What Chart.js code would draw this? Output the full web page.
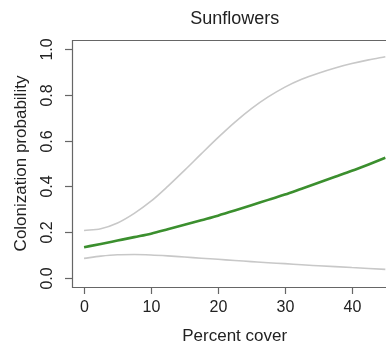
<!DOCTYPE html>
<html>
<head>
<meta charset="utf-8">
<script src="https://cdn.jsdelivr.net/npm/chart.js@4"></script>
<style>
  html, body { margin: 0; padding: 0; background: #fff; }
  #wrap { width: 386px; height: 349px; }
</style>
</head>
<body>
<div id="wrap"><canvas id="line-chart"></canvas></div>
<script>
// percent cover and fitted colonization probability with its interval
const cover = [0, 2.5, 5, 7.5, 10, 12.5, 15, 17.5, 20, 22.5, 25, 27.5, 30, 32.5, 35, 37.5, 40, 42.5, 45];
const fitted = [0.134, 0.148, 0.163, 0.178, 0.193, 0.212, 0.232, 0.252, 0.272, 0.294, 0.317, 0.341, 0.364, 0.390, 0.416, 0.442, 0.468, 0.496, 0.525];
const upper = [0.207, 0.215, 0.240, 0.282, 0.335, 0.400, 0.470, 0.542, 0.613, 0.680, 0.740, 0.791, 0.834, 0.868, 0.895, 0.918, 0.937, 0.953, 0.967];
const lower = [0.085, 0.095, 0.101, 0.102, 0.100, 0.096, 0.091, 0.086, 0.081, 0.076, 0.071, 0.066, 0.062, 0.057, 0.053, 0.049, 0.045, 0.041, 0.037];
const xTicks = [0, 10, 20, 30, 40];
const yTicks = [0.0, 0.2, 0.4, 0.6, 0.8, 1.0];

const pts = ys => cover.map((x, i) => ({ x: x, y: ys[i] }));

const FONT = '"Liberation Sans", Arial, sans-serif';

// base-graphics style frame, ticks and labels
const rAxes = {
  id: 'rAxes',
  afterDraw(chart) {
    const ctx = chart.ctx;
    const a = chart.chartArea;
    const xs = chart.scales.x, ys = chart.scales.y;
    ctx.save();
    ctx.strokeStyle = '#666';
    ctx.lineWidth = 1.2;
    ctx.beginPath();
    ctx.moveTo(a.right + 2, a.top + 0.5);
    ctx.lineTo(a.left + 0.5, a.top + 0.5);
    ctx.lineTo(a.left + 0.5, a.bottom + 0.5);
    ctx.lineTo(a.right + 2, a.bottom + 0.5);
    ctx.stroke();

    ctx.fillStyle = '#222';
    ctx.font = '16px ' + FONT;
    ctx.textAlign = 'center';
    ctx.textBaseline = 'middle';
    xTicks.forEach(v => {
      const px = Math.round(xs.getPixelForValue(v)) + 0.5;
      ctx.beginPath();
      ctx.moveTo(px, a.bottom);
      ctx.lineTo(px, a.bottom + 7);
      ctx.stroke();
      ctx.fillText(String(v), px, a.bottom + 21);
    });
    yTicks.forEach(v => {
      const py = Math.round(ys.getPixelForValue(v)) + 0.5;
      ctx.beginPath();
      ctx.moveTo(a.left, py);
      ctx.lineTo(a.left - 7, py);
      ctx.stroke();
      ctx.save();
      ctx.translate(a.left - 24, py);
      ctx.rotate(-Math.PI / 2);
      ctx.fillText(v.toFixed(1), 0, 0);
      ctx.restore();
    });

    ctx.font = '17px ' + FONT;
    ctx.textBaseline = 'alphabetic';
    const cx = (a.left + xs.getPixelForValue(46.8)) / 2;
    ctx.save();
    ctx.font = '18px ' + FONT;
    ctx.fillText('Sunflowers', cx, 24);
    ctx.restore();
    ctx.fillText('Percent cover', cx, 341);
    ctx.save();
    ctx.translate(26, (a.top + a.bottom) / 2);
    ctx.rotate(-Math.PI / 2);
    ctx.fillText('Colonization probability', 0, 0);
    ctx.restore();
    ctx.restore();
  }
};

new Chart(document.getElementById('line-chart'), {
  type: 'line',
  data: {
    datasets: [
      { data: pts(upper), borderColor: '#c8c8c8', borderWidth: 1.6, pointRadius: 0, cubicInterpolationMode: 'monotone', fill: false },
      { data: pts(lower), borderColor: '#c8c8c8', borderWidth: 1.6, pointRadius: 0, cubicInterpolationMode: 'monotone', fill: false },
      { data: pts(fitted), borderColor: '#3b8f2e', borderWidth: 2.6, pointRadius: 0, cubicInterpolationMode: 'monotone', fill: false }
    ]
  },
  options: {
    responsive: true,
    maintainAspectRatio: false,
    animation: false,
    layout: { padding: { left: 72, top: 40, right: 0, bottom: 62 } },
    scales: {
      x: { type: 'linear', min: -1.8, max: 45.1, display: false },
      y: { type: 'linear', min: -0.04, max: 1.04, display: false }
    },
    plugins: {
      legend: { display: false },
      tooltip: { enabled: false }
    }
  },
  plugins: [rAxes]
});
</script>
</body>
</html>
